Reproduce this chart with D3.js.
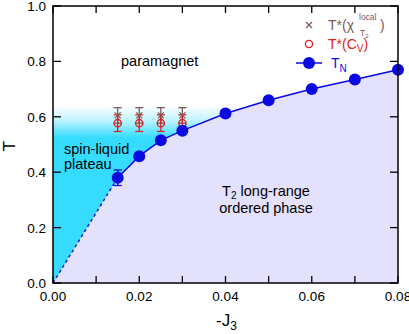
<!DOCTYPE html>
<html><head><meta charset="utf-8">
<script src="https://cdn.jsdelivr.net/npm/d3@7"></script>
<style>body{margin:0;background:#fff}svg{display:block;font-family:"Liberation Sans",Arial,sans-serif}</style>
</head><body><svg id="c" width="409" height="334"></svg>
<script>
// Data
const tnJ = [0.015, 0.02, 0.025, 0.03, 0.04, 0.05, 0.06, 0.07, 0.08];
const tnT = [0.38, 0.458, 0.515, 0.55, 0.612, 0.66, 0.70, 0.735, 0.77];
const tnErr = [0.028, 0, 0, 0, 0, 0, 0, 0, 0];
const starJ = [0.015, 0.02, 0.025, 0.03];
const chiT = [0.605, 0.605, 0.605, 0.605];
const chiErr = [0.028, 0.028, 0.028, 0.028];
const cvT = [0.577, 0.577, 0.577, 0.577];
const cvErr = [0.03, 0.03, 0.03, 0.03];
const xTicks = [0, 0.01, 0.02, 0.03, 0.04, 0.05, 0.06, 0.07, 0.08];
const xLabels = [0, 0.02, 0.04, 0.06, 0.08];
const yTicks = [0, 0.2, 0.4, 0.6, 0.8, 1.0];
const plateauTop = 0.64;

const svg = d3.select("#c");
const x = d3.scaleLinear().domain([0, 0.08]).range([53, 398]);
const y = d3.scaleLinear().domain([0, 1]).range([283, 6]);

const defs = svg.append("defs");
const g = defs.append("linearGradient").attr("id", "cy").attr("x1", 0).attr("y1", 0).attr("x2", 0).attr("y2", 1);
g.append("stop").attr("offset", "0%").attr("stop-color", "#36dcff").attr("stop-opacity", 0);
g.append("stop").attr("offset", "8%").attr("stop-color", "#36dcff").attr("stop-opacity", 0.3);
g.append("stop").attr("offset", "18%").attr("stop-color", "#36dcff").attr("stop-opacity", 1);
g.append("stop").attr("offset", "100%").attr("stop-color", "#36dcff").attr("stop-opacity", 1);

// cyan plateau region
svg.append("rect").attr("x", x(0)).attr("y", y(plateauTop))
  .attr("width", x(0.08) - x(0)).attr("height", y(0) - y(plateauTop)).attr("fill", "url(#cy)");

// lavender ordered region
const poly = [[0, 0]].concat(tnJ.map((d, i) => [d, tnT[i]])).concat([[0.08, 0]]);
svg.append("path").attr("d", d3.line().x(d => x(d[0])).y(d => y(d[1]))(poly) + "Z")
  .attr("fill", "#e3e1fc");

// dashed extrapolation
svg.append("line").attr("x1", x(0)).attr("y1", y(0)).attr("x2", x(tnJ[0])).attr("y2", y(tnT[0]))
  .attr("stroke", "#1a1ad0").attr("stroke-width", 1.5).attr("stroke-dasharray", "3,3");

// T* error bars and markers
function ebar(cx, cy, e, col) {
  svg.append("line").attr("x1", cx).attr("x2", cx).attr("y1", y(cy - e)).attr("y2", y(cy + e)).attr("stroke", col).attr("stroke-width", 1.3);
  [cy - e, cy + e].forEach(v => svg.append("line").attr("x1", cx - 4).attr("x2", cx + 4).attr("y1", y(v)).attr("y2", y(v)).attr("stroke", col).attr("stroke-width", 1.3));
}
starJ.forEach((j, i) => {
  ebar(x(j), chiT[i], chiErr[i], "#7d5a55");
  ebar(x(j), cvT[i], cvErr[i], "#dd2020");
});
starJ.forEach((j, i) => {
  const cx = x(j), cy = y(chiT[i]);
  svg.append("path").attr("d", `M${cx-3},${cy-3}L${cx+3},${cy+3}M${cx-3},${cy+3}L${cx+3},${cy-3}`).attr("stroke", "#7d5a55").attr("stroke-width", 1.3);
  svg.append("circle").attr("cx", cx).attr("cy", y(cvT[i])).attr("r", 3.6).attr("fill", "none").attr("stroke", "#dd2020").attr("stroke-width", 1.4);
});

// TN line
svg.append("path").attr("d", d3.line().x((d, i) => x(d)).y((d, i) => y(tnT[i]))(tnJ))
  .attr("fill", "none").attr("stroke", "#0a0ae0").attr("stroke-width", 1.5);
tnJ.forEach((j, i) => { if (tnErr[i] > 0) ebar(x(j), tnT[i], tnErr[i], "#0a0ae0"); });
svg.selectAll(".tn").data(tnJ).enter().append("circle")
  .attr("cx", d => x(d)).attr("cy", (d, i) => y(tnT[i])).attr("r", 6).attr("fill", "#0a0ae0");

// axes frame
svg.append("rect").attr("x", x(0)).attr("y", y(1)).attr("width", x(0.08) - x(0)).attr("height", y(0) - y(1))
  .attr("fill", "none").attr("stroke", "#000").attr("stroke-width", 1.5);
const tk = svg.append("g").attr("stroke", "#000").attr("stroke-width", 1.3);
xTicks.forEach(t => {
  tk.append("line").attr("x1", x(t)).attr("x2", x(t)).attr("y1", y(0)).attr("y2", y(0) - 7);
  tk.append("line").attr("x1", x(t)).attr("x2", x(t)).attr("y1", y(1)).attr("y2", y(1) + 7);
});
yTicks.forEach(t => {
  tk.append("line").attr("x1", x(0)).attr("x2", x(0) + 8).attr("y1", y(t)).attr("y2", y(t));
  tk.append("line").attr("x1", x(0.08)).attr("x2", x(0.08) - 8).attr("y1", y(t)).attr("y2", y(t));
});
svg.selectAll(".xl").data(xLabels).enter().append("text")
  .attr("x", d => x(d)).attr("y", 301).attr("text-anchor", "middle").attr("font-size", 13.5).text(d => d.toFixed(2));
svg.selectAll(".yl").data(yTicks).enter().append("text")
  .attr("x", 46).attr("y", d => y(d) + 5).attr("text-anchor", "end").attr("font-size", 13.5).text(d => d.toFixed(1));

// axis titles
svg.append("text").attr("transform", "translate(15,146) rotate(-90)").attr("text-anchor", "middle").attr("font-size", 17).text("T");
const xt = svg.append("text").attr("x", 216).attr("y", 326).attr("font-size", 17);
xt.append("tspan").text("-J");
xt.append("tspan").attr("font-size", 12).attr("dy", 4).text("3");

// region labels
svg.append("text").attr("x", 121).attr("y", 66).attr("font-size", 14.5).text("paramagnet");
svg.append("text").attr("x", 64).attr("y", 154).attr("font-size", 14.5).text("spin-liquid");
svg.append("text").attr("x", 64).attr("y", 169).attr("font-size", 14.5).text("plateau");
const l1 = svg.append("text").attr("x", 266).attr("y", 196).attr("text-anchor", "middle").attr("font-size", 14.5);
l1.append("tspan").text("T");
l1.append("tspan").attr("font-size", 10).attr("dy", 3).text("2");
l1.append("tspan").attr("dy", -3).text(" long-range");
svg.append("text").attr("x", 266).attr("y", 213).attr("text-anchor", "middle").attr("font-size", 14.5).text("ordered phase");

// legend
const lx = 309;
svg.append("path").attr("d", `M${lx-3},${22}L${lx+3},${28}M${lx-3},${28}L${lx+3},${22}`).attr("stroke", "#7d5a55").attr("stroke-width", 1.3);
svg.append("text").attr("x", 328).attr("y", 30).attr("font-size", 14).attr("fill", "#7d5a55").text("T*(χ");
svg.append("text").attr("x", 359).attr("y", 20).attr("font-size", 8.5).attr("fill", "#7d5a55").text("local");
const sb = svg.append("text").attr("x", 360).attr("y", 36).attr("font-size", 8.5).attr("fill", "#7d5a55");
sb.append("tspan").text("T");
sb.append("tspan").attr("font-size", 6).attr("dy", 2).text("2");
svg.append("text").attr("x", 380).attr("y", 30).attr("font-size", 14).attr("fill", "#7d5a55").text(")");

svg.append("circle").attr("cx", lx).attr("cy", 44).attr("r", 3.6).attr("fill", "none").attr("stroke", "#dd2020").attr("stroke-width", 1.4);
const cvl = svg.append("text").attr("x", 328).attr("y", 49).attr("font-size", 14).attr("fill", "#dd2020");
cvl.append("tspan").text("T*(C");
cvl.append("tspan").attr("font-size", 10).attr("dy", 3).text("V");
cvl.append("tspan").attr("dy", -3).text(")");

svg.append("line").attr("x1", 296).attr("x2", 322).attr("y1", 63).attr("y2", 63).attr("stroke", "#0a0ae0").attr("stroke-width", 1.5);
svg.append("circle").attr("cx", lx).attr("cy", 63).attr("r", 6).attr("fill", "#0a0ae0");
const tnl = svg.append("text").attr("x", 331).attr("y", 68).attr("font-size", 14).attr("fill", "#0a0ae0");
tnl.append("tspan").text("T");
tnl.append("tspan").attr("font-size", 10).attr("dy", 4).text("N");
</script></body></html>
